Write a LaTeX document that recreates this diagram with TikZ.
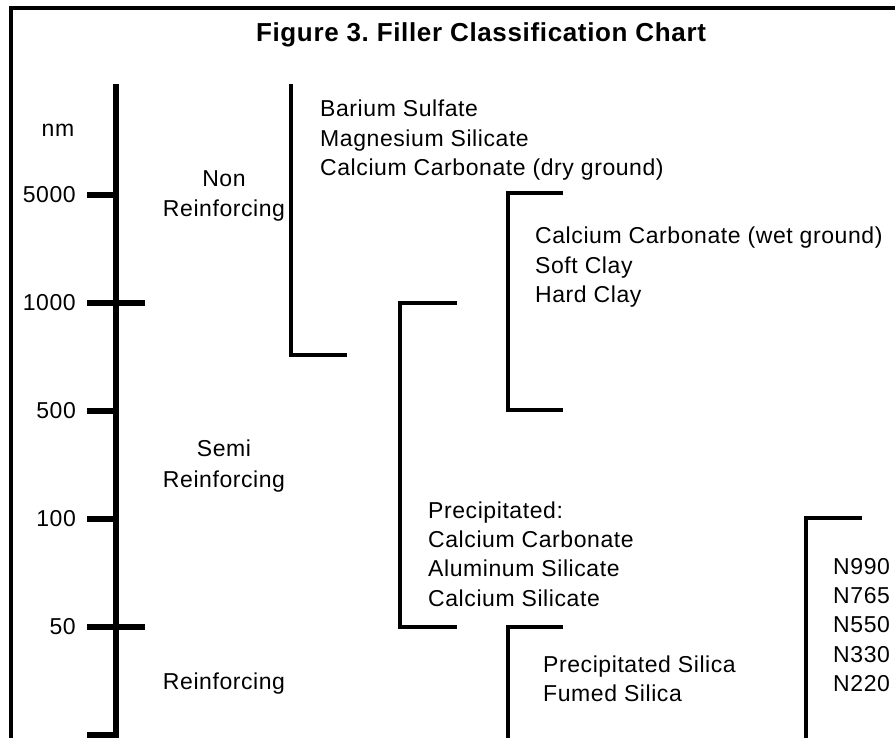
\documentclass[tikz,border=0pt]{standalone}
\usepackage{fontspec}
\setmainfont{Liberation Sans}[LetterSpace=2.5]
\usepackage{tikz}
\frenchspacing

\begin{document}
\begin{tikzpicture}[x=1pt,y=-1pt,
	axis/.style={line width=5.5pt},
	brk/.style={line width=3.6pt},
	txt/.style={inner sep=0pt,font=\fontsize{23}{27}\selectfont},
	item/.style={txt,text height=21pt,text depth=8pt},
	cls/.style={txt,text height=17pt,text depth=6pt}]
	\useasboundingbox (0,0) rectangle (895,738);
	% frame and title
	\draw[line width=4pt] (11,738) |- (895,8);
	\node (title) [anchor=base,font=\bfseries\fontsize{26}{30}\selectfont] at (481,42) {Figure 3. Filler Classification Chart};
	% size scale
	\draw[axis] (116,84) |- (87,735);
	\node (nm) [txt,anchor=base] at (58,137) {nm};
	\foreach \y/\v/\e in {195/5000/116,303/1000/145,411/500/116,519/100/116,627/50/145} {
		\draw[axis] (87,\y) -- (\e,\y);
		\node (t\v) [txt,anchor=base east] at (76,\y+7.5) {\v};
	}
	% classes
	\node (non) [cls,anchor=base] at (224,187) {Non};
	\node (nonr) [cls,node distance=30pt,below of=non] {Reinforcing};
	\node (semi) [cls,anchor=base] at (224,456) {Semi};
	\node (semir) [cls,node distance=31pt,below of=semi] {Reinforcing};
	\node (reinf) [cls,anchor=base] at (224,689) {Reinforcing};
	% brackets
	\draw[brk] (291,84) |- (347,355);
	\draw[brk] (457,303) -| (400,627) -- (457,627);
	\draw[brk] (563,193) -| (508,410) -- (563,410);
	\draw[brk] (563,627) -| (508,738);
	\draw[brk] (862,518) -| (806,738);
	% fillers
	\node (bas) [item,anchor=base west] at (320,117) {Barium Sulfate};
	\node (mgs) [item,anchor=north west] at (bas.south west) {Magnesium Silicate};
	\node (ccd) [item,anchor=north west] at (mgs.south west) {Calcium Carbonate (dry ground)};
	\node (ccw) [item,anchor=base west] at (535,244) {Calcium Carbonate (wet ground)};
	\node (sc) [item,anchor=north west] at (ccw.south west) {Soft Clay};
	\node (hc) [item,anchor=north west] at (sc.south west) {Hard Clay};
	\node (pre) [item,anchor=base west] at (428,518) {Precipitated:};
	\node (pcc) [item,anchor=north west] at (pre.south west) {Calcium Carbonate};
	\node (as) [item,anchor=north west] at (pcc.south west) {Aluminum Silicate};
	\node (cs) [item,anchor=north west] at (as.south west) {Calcium Silicate};
	\node (ps) [item,anchor=base west] at (543,672) {Precipitated Silica};
	\node (fs) [item,anchor=north west] at (ps.south west) {Fumed Silica};
	\node (n990) [item,anchor=base west] at (833,574) {N990};
	\node (n765) [item,anchor=north west] at (n990.south west) {N765};
	\node (n550) [item,anchor=north west] at (n765.south west) {N550};
	\node (n330) [item,anchor=north west] at (n550.south west) {N330};
	\node (n220) [item,anchor=north west] at (n330.south west) {N220};
\end{tikzpicture}
\end{document}
